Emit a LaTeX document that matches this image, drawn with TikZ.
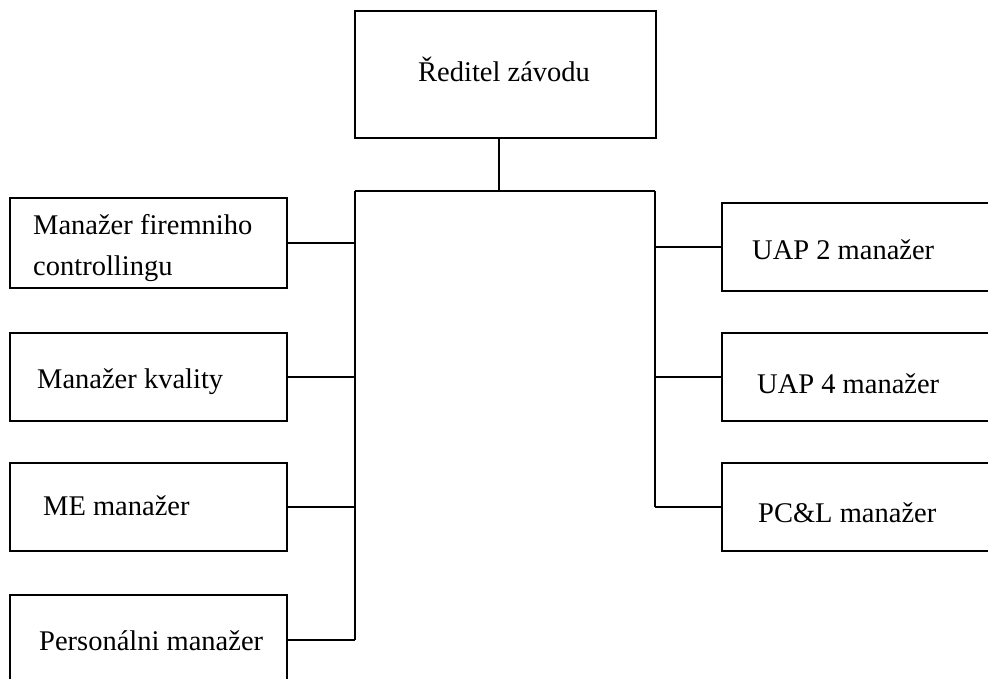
\documentclass[tikz,border=0pt]{standalone}
\usepackage{fontspec}
\setmainfont{Liberation Serif}
\begin{document}
\begin{tikzpicture}[x=1pt,y=-1pt,
  box/.style={draw=black, line width=1.6pt, anchor=north west, inner sep=0pt,
              outer sep=0pt, minimum width=277pt},
  lbl/.style={anchor=base west, inner sep=0pt, align=left,
              font=\fontsize{28.5}{40}\selectfont},
  wire/.style={draw=black, line width=1.6pt}]
\clip (0,0) rectangle (988,679);

% director
\node[box, minimum width=301pt, minimum height=127pt] (dir) at (355,11) {};
\node[lbl] (tdir) at (418,82) {Ředitel závodu};

% left column
\node[box, minimum height=90pt] (l1) at (10,198) {};
\node[box, minimum height=88pt] (l2) at (10,333) {};
\node[box, minimum height=88pt] (l3) at (10,463) {};
\node[box, minimum height=90pt] (l4) at (10,595) {};
% the base of a two-line label sits on its last line
\node[lbl] (tl1) at (33,275) {Manažer firemniho\\controllingu};
\node[lbl] (tl2) at (37,388) {Manažer kvality};
\node[lbl] (tl3) at (43,515) {ME manažer};
\node[lbl] (tl4) at (39,650) {Personálni manažer};

% right column
\node[box, minimum height=88pt] (r1) at (722,203) {};
\node[box, minimum height=88pt] (r2) at (722,333) {};
\node[box, minimum height=88pt] (r3) at (722,463) {};
\node[lbl] (tr1) at (752,259) {UAP 2 manažer};
\node[lbl] (tr2) at (757,393) {UAP 4 manažer};
\node[lbl] (tr3) at (758,522) {PC\&L manažer};

% bus junctions
\coordinate (busC) at (499,191);
\coordinate (busL) at (355,191);
\coordinate (busR) at (655,191);
\coordinate (endL) at (busL |- l4.east);
\coordinate (endR) at (busR |- r3.west);

\draw[wire] (dir.south -| busC) -- (busC);
\draw[wire] (busL) -- (busR);
\draw[wire] (busL) -- (endL);
\draw[wire] (busR) -- (endR);

\draw[wire] (l1.east) -- (l1.east -| busL);
\draw[wire] (l2.east) -- (l2.east -| busL);
\draw[wire] (l3.east) -- (l3.east -| busL);
\draw[wire] (l4.east) -- (endL);
\draw[wire] (r1.west) -- (r1.west -| busR);
\draw[wire] (r2.west) -- (r2.west -| busR);
\draw[wire] (r3.west) -- (endR);
\end{tikzpicture}
\end{document}
